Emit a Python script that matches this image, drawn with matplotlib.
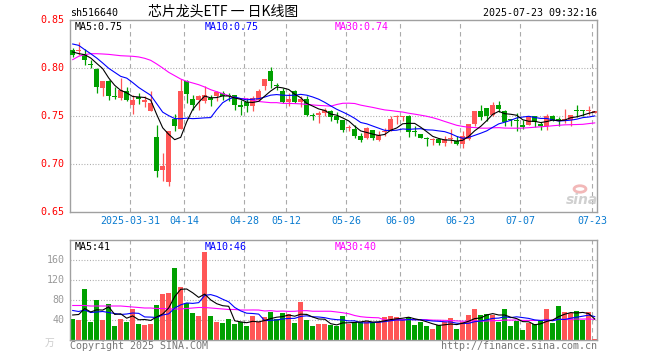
import matplotlib
matplotlib.use('Agg')
import matplotlib.pyplot as plt
import matplotlib.transforms as mtransforms
from matplotlib.patches import Circle

# ---------------- data ----------------
opens = [0.819, 0.8174, 0.815, 0.8038, 0.7993, 0.7792, 0.786, 0.770, 0.7688, 0.7764,
         0.7618, 0.770, 0.7642, 0.7556, 0.7278, 0.6941, 0.6809, 0.7469, 0.7365, 0.7861,
         0.768, 0.767, 0.7653, 0.7688, 0.7705, 0.774, 0.7722, 0.7722, 0.7618, 0.7642,
         0.760, 0.767, 0.7809, 0.7965, 0.7826, 0.7764, 0.7642, 0.7757, 0.7642, 0.768,
         0.7514, 0.7514, 0.7531, 0.7549, 0.7497, 0.7455, 0.7372, 0.7365, 0.7295, 0.7271,
         0.7358, 0.7247, 0.7335, 0.7358, 0.7486, 0.7486, 0.7503, 0.734, 0.7316, 0.726,
         0.7245, 0.726, 0.7219, 0.7257, 0.7243, 0.7212, 0.726, 0.742, 0.7556, 0.7583,
         0.7514, 0.7618, 0.7556, 0.7465, 0.7462, 0.741, 0.741, 0.7503, 0.742, 0.7399,
         0.7503, 0.7465, 0.7444, 0.7462, 0.7552, 0.7552, 0.7556, 0.7531]
highs = [0.8205, 0.827, 0.820, 0.8087, 0.800, 0.786, 0.787, 0.780, 0.7896, 0.780,
         0.772, 0.774, 0.7705, 0.7757, 0.741, 0.7115, 0.734, 0.7524, 0.7885, 0.7878,
         0.772, 0.772, 0.781, 0.772, 0.7757, 0.7757, 0.774, 0.7722, 0.767, 0.7688,
         0.7705, 0.7781, 0.7889, 0.8007, 0.7844, 0.7792, 0.774, 0.7767, 0.7705, 0.7705,
         0.7531, 0.7549, 0.7583, 0.7566, 0.7538, 0.7462, 0.741, 0.741, 0.7323, 0.7382,
         0.7358, 0.734, 0.7375, 0.7503, 0.751, 0.7503, 0.751, 0.7392, 0.7316, 0.7281,
         0.7271, 0.7271, 0.7295, 0.7365, 0.7288, 0.734, 0.742, 0.7556, 0.7618, 0.7583,
         0.7642, 0.7653, 0.7566, 0.7469, 0.7531, 0.746, 0.7503, 0.7503, 0.7434, 0.7524,
         0.7514, 0.749, 0.7573, 0.7514, 0.7618, 0.7566, 0.760, 0.7556]
lows = [0.811, 0.814, 0.8035, 0.800, 0.774, 0.7705, 0.767, 0.768, 0.767, 0.7653,
        0.7524, 0.763, 0.759, 0.7556, 0.686, 0.682, 0.6767, 0.734, 0.7365, 0.7635,
        0.7566, 0.7559, 0.764, 0.760, 0.7653, 0.767, 0.766, 0.7566, 0.7514, 0.7538,
        0.7549, 0.766, 0.7774, 0.7792, 0.7774, 0.7635, 0.7608, 0.7635, 0.759, 0.7497,
        0.7455, 0.7427, 0.7503, 0.7444, 0.7427, 0.733, 0.734, 0.7271, 0.7226, 0.726,
        0.7247, 0.7236, 0.7288, 0.734, 0.742, 0.7444, 0.7281, 0.7295, 0.7271, 0.7184,
        0.7201, 0.7201, 0.7184, 0.722, 0.720, 0.7167, 0.7253, 0.7392, 0.7462, 0.7444,
        0.7503, 0.7538, 0.740, 0.7392, 0.734, 0.7365, 0.741, 0.7385, 0.7358, 0.7351,
        0.7444, 0.7392, 0.7427, 0.7392, 0.749, 0.7503, 0.7514, 0.7531]
closes = [0.8135, 0.819, 0.808, 0.8035, 0.780, 0.786, 0.7705, 0.7697, 0.7774, 0.767,
          0.767, 0.768, 0.767, 0.7635, 0.6924, 0.6976, 0.734, 0.7392, 0.7757, 0.7733,
          0.7618, 0.7712, 0.772, 0.7663, 0.7747, 0.7705, 0.7705, 0.7618, 0.7594, 0.760,
          0.7688, 0.7764, 0.7889, 0.7861, 0.7809, 0.7642, 0.768, 0.7642, 0.768, 0.7514,
          0.750, 0.7531, 0.7566, 0.749, 0.7455, 0.7358, 0.7375, 0.7288, 0.7247, 0.7375,
          0.7271, 0.7306, 0.734, 0.7469, 0.749, 0.749, 0.733, 0.7335, 0.7271, 0.7257,
          0.7247, 0.7219, 0.726, 0.726, 0.7208, 0.7288, 0.742, 0.7556, 0.749, 0.7503,
          0.7618, 0.7576, 0.7434, 0.746, 0.745, 0.7385, 0.7497, 0.7434, 0.7392, 0.7503,
          0.7462, 0.7462, 0.7469, 0.7514, 0.7549, 0.7549, 0.7559, 0.7549]
volumes = [43, 40, 103, 36, 80, 40, 72, 28, 42, 36,
           63, 33, 31, 33, 71, 92, 94, 144, 106, 74,
           54, 48, 177, 48, 36, 34, 42, 32, 37, 28,
           48, 36, 46, 56, 42, 54, 52, 34, 76, 40,
           28, 32, 32, 31, 28, 48, 33, 36, 36, 38,
           36, 36, 46, 48, 46, 42, 46, 30, 36, 28,
           22, 30, 36, 44, 22, 36, 50, 62, 50, 52,
           50, 36, 62, 28, 38, 20, 34, 32, 38, 62,
           34, 68, 56, 54, 58, 40, 56, 2]

# moving-average values before the window is full
ma5_head = [0.8167, 0.815, 0.8139, 0.8104]
ma10_head = [0.825, 0.8236, 0.8191, 0.8149, 0.8104, 0.8052, 0.7997, 0.7955, 0.7913]
ma30_head = [0.8087, 0.8122, 0.8139, 0.8149, 0.8149, 0.8146, 0.8142, 0.8135, 0.8128, 0.8125,
             0.8122, 0.8115, 0.8101, 0.808, 0.8042, 0.800, 0.7955, 0.792, 0.7885, 0.7861,
             0.7844, 0.7826, 0.7802, 0.7774, 0.7753, 0.7733, 0.7712, 0.7691, 0.7681]
vma5_head = [50, 51, 63, 56]
vma10_head = [59, 57, 60, 55, 56, 57, 55, 53, 51]
vma30_head = [69, 69, 69, 68, 68, 68, 68, 68, 68, 67, 66, 65, 64, 64, 63,
              63, 62, 62, 62, 63, 64, 65, 65, 64, 63, 62, 61, 61, 60]

tick_labels = ['2025-03-31', '04-14', '04-28', '05-12', '05-26', '06-09', '06-23', '07-07', '07-23']
tick_index = [10, 19, 29, 36, 46, 55, 65, 75, 87]
price_ticks = [0.85, 0.80, 0.75, 0.70, 0.65]
vol_ticks = [40, 80, 120, 160]
vol_ma_labels = ['MA5:41', 'MA10:46', 'MA30:40']

# ---------------- helpers ----------------
def moving_avg(values, n, head):
    out = list(head)
    for i in range(n - 1, len(values)):
        out.append(sum(values[i - n + 1:i + 1]) / n)
    return out

ma5 = moving_avg(closes, 5, ma5_head)
ma10 = moving_avg(closes, 10, ma10_head)
ma30 = moving_avg(closes, 30, ma30_head)
vma5 = moving_avg(volumes, 5, vma5_head)
vma10 = moving_avg(volumes, 10, vma10_head)
vma30 = moving_avg(volumes, 30, vma30_head)

W, H = 660, 360
RED = '#ff5656'
GREEN = '#00a000'
FRAME = '#a0a0a0'
GRID = '#aaaaaa'
MONO = 'DejaVu Sans Mono'
LW = 0.8

fig = plt.figure(figsize=(W / 100, H / 100), dpi=100)
fig.patch.set_facecolor('white')

def px_axes(l, t, r, b):
    return fig.add_axes([l / W, 1 - b / H, (r - l) / W, (b - t) / H])

ax1 = px_axes(70, 20, 597, 212)
ax2 = px_axes(70, 240, 597, 340)

n = len(closes)
xs = list(range(n))
xlim = (-0.45, 87.38)
for ax in (ax1, ax2):
    ax.set_xlim(*xlim)
    ax.set_xticks([])
    ax.set_yticks([])
    for s in ax.spines.values():
        s.set_color(FRAME)
        s.set_linewidth(1.0)
    for ti in tick_index:
        ax.axvline(ti - 0.4, color=GRID, lw=0.8, ls=(0, (4.0, 3.2)), zorder=0)

ax1.set_ylim(0.65, 0.85)
ax2.set_ylim(0, 200)
for v in price_ticks[1:-1]:
    ax1.axhline(v, color=GRID, lw=0.8, ls=(0, (0.9, 1.6)), zorder=0)
for v in vol_ticks:
    ax2.axhline(v, color=GRID, lw=0.8, ls=(0, (0.9, 1.6)), zorder=0)

# candles
colors = [RED if c >= o else GREEN for o, c in zip(opens, closes)]
ax1.vlines(xs, lows, highs, colors=colors, lw=0.9, zorder=2)
bottoms = [min(o, c) for o, c in zip(opens, closes)]
heights = [max(abs(c - o), 0.0011) for o, c in zip(opens, closes)]
ax1.bar(xs, heights, bottom=bottoms, width=0.8, color=colors, linewidth=0, zorder=3)

ax1.plot(xs, ma30, color='#ff00ff', lw=LW, zorder=4)
ax1.plot(xs, ma10, color='#0000ff', lw=LW, zorder=4)
ax1.plot(xs, ma5, color='black', lw=LW, zorder=4)

# volume
ax2.bar(xs, volumes, width=0.8, color=colors, linewidth=0, zorder=2)
ax2.plot(xs, vma30, color='#ff00ff', lw=LW, zorder=4)
ax2.plot(xs, vma10, color='#0000ff', lw=LW, zorder=4)
ax2.plot(xs, vma5, color='black', lw=LW, zorder=4)

# axis labels
tr1 = mtransforms.blended_transform_factory(ax1.transAxes, ax1.transData)
for v in price_ticks:
    ax1.text(-0.01, v, '%.2f' % v, transform=tr1, ha='right', va='center',
             color='#ff0000', fontsize=7.2, family=MONO, clip_on=False)
tr2 = mtransforms.blended_transform_factory(ax2.transAxes, ax2.transData)
for v in vol_ticks:
    ax2.text(-0.01, v, str(v), transform=tr2, ha='right', va='center',
             color='#999999', fontsize=7.2, family=MONO, clip_on=False)
ax2.text(-0.03, -5, '万', transform=tr2, ha='right', va='center', color='#cccccc',
         fontsize=7, family=['Noto Sans CJK SC', 'DejaVu Sans'], clip_on=False)

trx = mtransforms.blended_transform_factory(ax1.transData, ax1.transAxes)
for ti, lab in zip(tick_index, tick_labels):
    ax1.text(ti - 0.4, -0.047, lab, transform=trx, ha='center', va='center',
             color='#0a7bd0', fontsize=7.2, family=MONO, clip_on=False)

# MA legends
def ftext(x, y, s, **kw):
    fig.text(x / W, 1 - y / H, s, **kw)

ftext(75, 27, 'MA5:%.2f' % ma5[-1], color='black', fontsize=7.2, family=MONO, va='center')
ftext(205, 27, 'MA10:%.2f' % ma10[-1], color='#0000ff', fontsize=7.2, family=MONO, va='center')
ftext(335, 27, 'MA30:%.2f' % ma30[-1], color='#ff00ff', fontsize=7.2, family=MONO, va='center')
ftext(75, 247, vol_ma_labels[0], color='black', fontsize=7.2, family=MONO, va='center')
ftext(205, 247, vol_ma_labels[1], color='#0000ff', fontsize=7.2, family=MONO, va='center')
ftext(335, 247, vol_ma_labels[2], color='#ff00ff', fontsize=7.2, family=MONO, va='center')

# header
ftext(70, 13, 'sh516640', color='black', fontsize=7.2, family=MONO, va='center')
ftext(223, 12, '芯片龙头ETF 一 日K线图', color='black', fontsize=10,
      family=['Noto Sans CJK SC', 'DejaVu Sans'], va='center', ha='center')
ftext(597, 13, '2025-07-23 09:32:16', color='black', fontsize=7.2, family=MONO,
      va='center', ha='right')

# footer
ftext(70, 346, 'Copyright 2025 SINA.COM', color='#777777', fontsize=7.2, family=MONO, va='center')
ftext(597, 346, 'http://finance.sina.com.cn', color='#777777', fontsize=7.2, family=MONO,
      va='center', ha='right')

# sina watermark
ftext(582, 200, 'sina', color='#d0d0d0', fontsize=10, fontweight='bold', style='italic',
      va='center', ha='center')
logo = Circle((580 / W, 1 - 189 / H), 0.009, transform=fig.transFigure, facecolor='none',
              edgecolor='#f2b8b8', lw=2.0)
fig.patches.append(logo)

fig.savefig('out.png', dpi=100, facecolor='white')
